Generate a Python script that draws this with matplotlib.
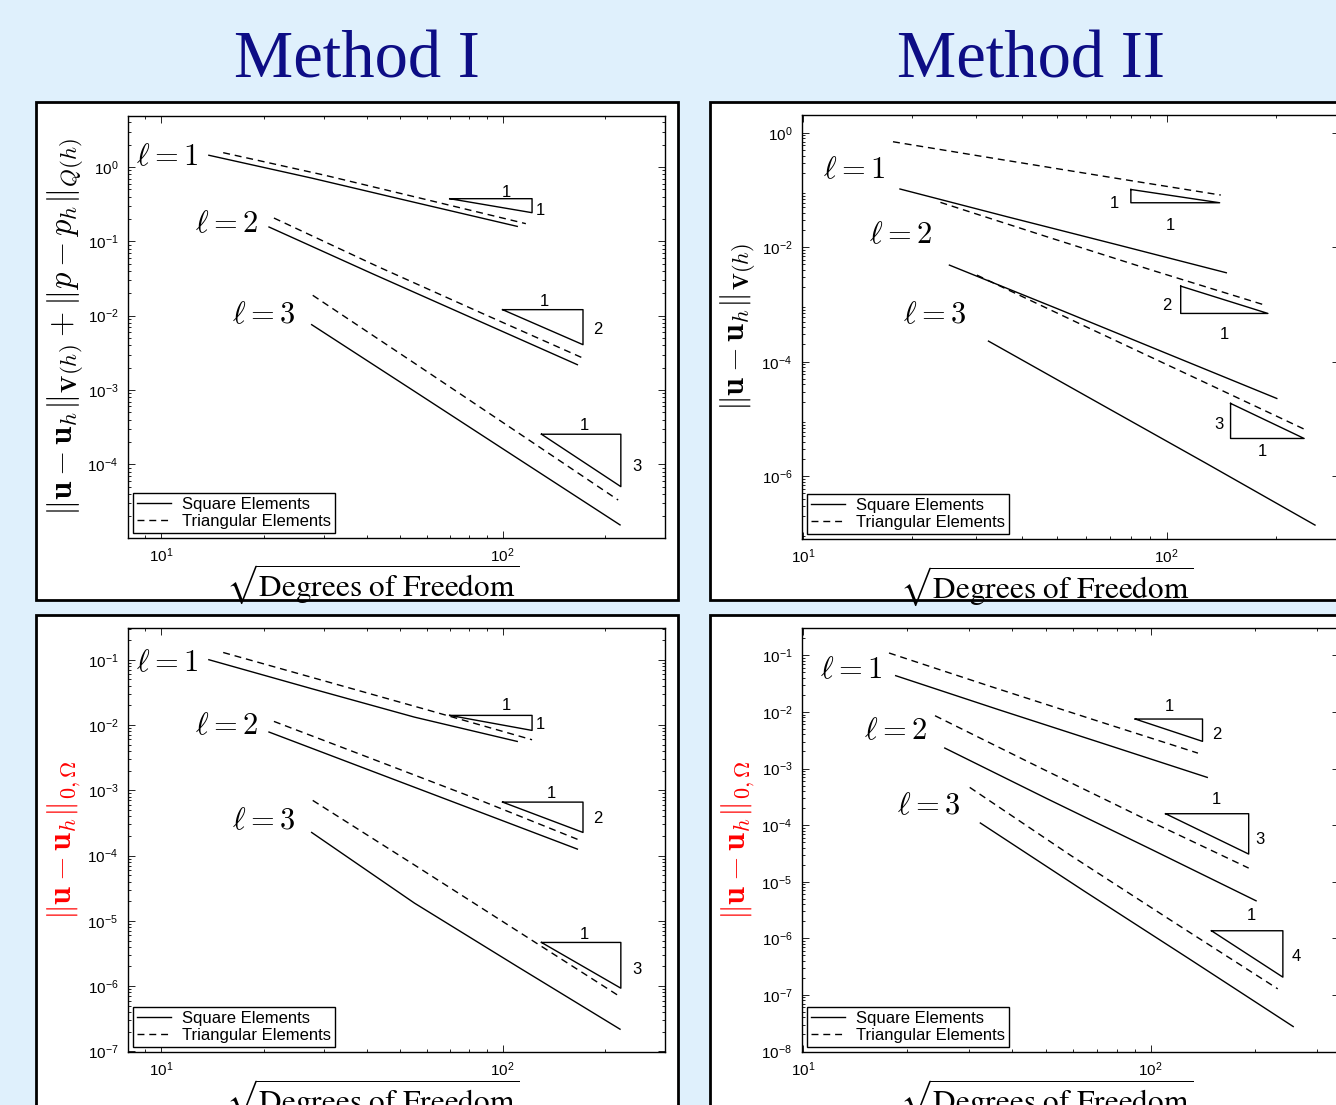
import matplotlib
matplotlib.use("Agg")
import matplotlib.pyplot as plt
from matplotlib.lines import Line2D
from matplotlib.patches import Rectangle

plt.rcParams["font.family"] = ["Liberation Sans", "DejaVu Sans"]
plt.rcParams["mathtext.fontset"] = "custom"
plt.rcParams["mathtext.rm"] = "Liberation Sans"
plt.rcParams["mathtext.it"] = "Liberation Sans:italic"
plt.rcParams["mathtext.bf"] = "Liberation Sans:bold"

BG = "#dff0fc"
TITLE_COLOR = "#0d0d85"
DASH = (0, (5, 3.5))

# ---- Method I, energy norm (top left) ----
m1e_sq_x = [[13.8, 27.6, 55.2, 110.4], [20.7, 41.4, 82.8, 165.6], [27.6, 55.2, 110.4, 220.8]]
m1e_sq_y = [[1.44, 0.71, 0.335, 0.159], [0.156, 0.037, 0.009, 2.19e-3], [7.57e-3, 9.6e-4, 1.21e-4, 1.53e-5]]
m1e_tri_x = [[15.2, 30.0, 59.0, 117.0], [21.4, 42.8, 85.8, 171.9], [27.8, 55.4, 110.0, 218.0]]
m1e_tri_y = [[1.56, 0.78, 0.37, 0.173], [0.206, 0.0465, 0.0111, 2.69e-3], [0.0188, 2.27e-3, 2.74e-4, 3.31e-5]]
m1e_slope_x = [[70, 122, 122, 70], [100, 172, 172, 100], [130, 222, 222, 130]]
m1e_slope_y = [[0.375, 0.375, 0.243, 0.375], [0.01205, 0.01205, 4.07e-3, 0.01205], [2.54e-4, 2.54e-4, 5.01e-5, 2.54e-4]]
m1e_rates = [("1", 102.8, 0.461), ("1", 129, 0.261), ("1", 133, 0.0153), ("2", 190, 6.49e-3),
             ("1", 174, 3.38e-4), ("3", 247, 9.3e-5)]
m1e_ell = [(10.4, 1.36), (15.5, 0.173), (20.0, 0.0103)]

# ---- Method I, L2 norm (bottom left) ----
m1l_sq_x = [[13.8, 27.6, 55.2, 110.4], [20.7, 41.4, 82.8, 165.6], [27.6, 55.2, 110.4, 220.8]]
m1l_sq_y = [[0.1, 0.036, 0.0132, 5.6e-3], [7.8e-3, 1.97e-3, 4.98e-4, 1.256e-4], [2.26e-4, 1.87e-5, 2.0e-6, 2.19e-7]]
m1l_tri_x = [[15.2, 30.4, 60.8, 122.0], [21.4, 42.8, 85.6, 167.0], [27.8, 55.6, 111.0, 222.0]]
m1l_tri_y = [[0.129, 0.0466, 0.0168, 5.94e-3], [0.01135, 2.85e-3, 7.1e-4, 1.745e-4], [7.0e-4, 7.0e-5, 6.9e-6, 6.78e-7]]
m1l_slope_x = [[70, 122, 122, 70], [100, 172, 172, 100], [130, 222, 222, 130]]
m1l_slope_y = [[0.01403, 0.01403, 8.26e-3, 0.01403], [6.59e-4, 6.59e-4, 2.26e-4, 6.59e-4], [4.67e-6, 4.67e-6, 9.3e-7, 4.67e-6]]
m1l_rates = [("1", 102.8, 0.0197), ("1", 129, 0.0101), ("1", 138.6, 9.06e-4), ("2", 190, 3.75e-4),
             ("1", 174, 6.12e-6), ("3", 247, 1.82e-6)]
m1l_ell = [(10.4, 0.089), (15.5, 9.75e-3), (20.0, 3.33e-4)]

# ---- Method II, energy norm (top right) ----
m2e_sq_x = [[18.5, 36.5, 73.0, 146.0], [25.3, 50.3, 100.5, 201.0], [32.4, 64.5, 128.5, 256.0]]
m2e_sq_y = [[0.104, 0.034, 0.0111, 3.58e-3], [4.87e-3, 8.35e-4, 1.38e-4, 2.28e-5], [2.29e-4, 1.96e-5, 1.68e-6, 1.40e-7]]
m2e_tri_x = [[17.7, 35.3, 70.6, 141.0], [23.9, 46.5, 92.0, 184.0], [30.1, 60.0, 120.0, 240.0]]
m2e_tri_y = [[0.696, 0.338, 0.165, 0.0815], [0.0607, 0.0155, 3.9e-3, 1.0e-3], [3.26e-3, 4.1e-4, 5.2e-5, 6.56e-6]]
m2e_slope_x = [[79.8, 79.8, 140, 79.8], [109.4, 109.4, 190, 109.4], [150, 150, 239, 150]]
m2e_slope_y = [[0.102, 0.0598, 0.0598, 0.102], [2.09e-3, 6.97e-4, 6.97e-4, 2.09e-3], [1.87e-5, 4.56e-6, 4.56e-6, 1.87e-5]]
m2e_rates = [("1", 72, 0.058), ("1", 102.5, 0.0237), ("2", 100.4, 9.5e-4), ("1", 144, 3.0e-4),
             ("3", 139.6, 8.0e-6), ("1", 184, 2.74e-6)]
m2e_ell = [(13.8, 0.223), (18.5, 0.0163), (23.0, 6.5e-4)]

# ---- Method II, L2 norm (bottom right) ----
m2l_sq_x = [[18.5, 36.5, 73.0, 145.5], [25.6, 50.5, 101.0, 201.0], [32.4, 64.5, 129.0, 257.0]]
m2l_sq_y = [[0.0437, 0.011, 2.77e-3, 6.97e-4], [2.30e-3, 2.91e-4, 3.67e-5, 4.6e-6], [1.09e-4, 6.8e-6, 4.35e-7, 2.76e-8]]
m2l_tri_x = [[17.7, 34.6, 68.5, 136.8], [24.0, 48.0, 96.0, 191.4], [30.2, 59.0, 117.0, 232.0]]
m2l_tri_y = [[0.110, 0.0283, 7.3e-3, 1.87e-3], [8.57e-3, 1.04e-3, 1.30e-4, 1.74e-5], [4.64e-4, 2.9e-5, 1.9e-6, 1.28e-7]]
m2l_slope_x = [[90.3, 141, 141, 90.3], [110.4, 191.4, 191.4, 110.4], [149.6, 240, 240, 149.6]]
m2l_slope_y = [[7.49e-3, 7.49e-3, 3.02e-3, 7.49e-3], [1.59e-4, 1.59e-4, 3.08e-5, 1.59e-4], [1.36e-6, 1.36e-6, 2.06e-7, 1.36e-6]]
m2l_rates = [("1", 113.6, 0.0125), ("2", 154.5, 3.96e-3), ("1", 154.5, 2.88e-4), ("3", 206.5, 5.66e-5),
             ("1", 195.4, 2.5e-6), ("4", 263, 4.78e-7)]
m2l_ell = [(13.8, 0.0558), (18.5, 4.53e-3), (23.0, 2.14e-4)]

titles = ["Method I", "Method II"]
legend_labels = ["Square Elements", "Triangular Elements"]
ylabel_energy1 = r"$\|\mathbf{u}-\mathbf{u}_h\|_{\mathbf{V}(h)}+\|p-p_h\|_{Q(h)}$"
ylabel_energy2 = r"$\|\mathbf{u}-\mathbf{u}_h\|_{\mathbf{V}(h)}$"
ylabel_l2 = r"$\|\mathbf{u}-\mathbf{u}_h\|_{0,\Omega}$"
xlabel = r"$\sqrt{\mathrm{Degrees\ of\ Freedom}}$"

W, H = 1336, 1105


def fig_rect(x0, y0, x1, y1):
    # pixel box (top-left origin) -> figure fraction rect
    return [x0 / W, 1 - y1 / H, (x1 - x0) / W, (y1 - y0) / H]


def draw_panel(ax, sq_x, sq_y, tri_x, tri_y, slope_x, slope_y, rates, ell_pos,
               xlim, ylim, ylabel, ylabel_color, ylabel_x, ylabel_size, yticks=None):
    for x, y in zip(sq_x, sq_y):
        ax.plot(x, y, color="black", lw=1.0)
    for x, y in zip(tri_x, tri_y):
        ax.plot(x, y, color="black", lw=1.0, ls=DASH)
    for x, y in zip(slope_x, slope_y):
        ax.plot(x, y, color="black", lw=1.0)
    for txt, x, y in rates:
        ax.text(x, y, txt, ha="center", va="center", fontsize=12)
    for k, (x, y) in enumerate(ell_pos, start=1):
        ax.text(x, y, rf"$\ell = {k}$", ha="center", va="center", fontsize=22,
                math_fontfamily="cm")
    ax.set_xscale("log")
    ax.set_yscale("log")
    ax.set_xlim(*xlim)
    ax.set_ylim(*ylim)
    if yticks is not None:
        ax.set_yticks(yticks)
    ax.tick_params(which="both", direction="in", top=True, right=True, width=0.6)
    ax.tick_params(which="major", length=5, labelsize=11)
    ax.tick_params(which="minor", length=2.5)
    ax.tick_params(axis="x", pad=6)
    ax.tick_params(axis="y", pad=7)
    for sp in ax.spines.values():
        sp.set_linewidth(1.0)
    ax.set_ylabel(ylabel, fontsize=ylabel_size, color=ylabel_color, math_fontfamily="cm")
    ax.yaxis.set_label_coords(ylabel_x, 0.5)
    ax.set_xlabel(xlabel, fontsize=22.5, math_fontfamily="stix")
    ax.xaxis.set_label_coords(0.456, -0.058)
    handles = [Line2D([], [], color="black", lw=1.0),
               Line2D([], [], color="black", lw=1.0, ls=DASH)]
    leg = ax.legend(handles, legend_labels, loc="lower left", fontsize=12, fancybox=False,
                    edgecolor="black", framealpha=1, borderaxespad=0.3, borderpad=0.25,
                    labelspacing=0.1, handlelength=2.0, handletextpad=0.7)
    leg.get_frame().set_linewidth(1.0)


fig = plt.figure(figsize=(W / 100, H / 100), dpi=100)
fig.patch.set_facecolor(BG)

for box in [(36, 102, 678, 600), (710, 102, 1352, 600), (36, 615, 678, 1125), (710, 615, 1352, 1125)]:
    fig.add_artist(Rectangle((box[0] / W, 1 - box[3] / H), (box[2] - box[0]) / W, (box[3] - box[1]) / H,
                             transform=fig.transFigure, facecolor="white", edgecolor="black",
                             lw=2, zorder=-1))

ax1 = fig.add_axes(fig_rect(128, 116, 665, 538))
ax2 = fig.add_axes(fig_rect(802, 115, 1339, 539))
ax3 = fig.add_axes(fig_rect(128, 628, 665, 1052))
ax4 = fig.add_axes(fig_rect(802, 628, 1339, 1052))

draw_panel(ax1, m1e_sq_x, m1e_sq_y, m1e_tri_x, m1e_tri_y, m1e_slope_x, m1e_slope_y, m1e_rates, m1e_ell,
           (8.0, 299), (1.02e-5, 4.86), ylabel_energy1, "black", -0.078, 23.5)
draw_panel(ax2, m2e_sq_x, m2e_sq_y, m2e_tri_x, m2e_tri_y, m2e_slope_x, m2e_slope_y, m2e_rates, m2e_ell,
           (9.95, 298), (8e-8, 2.04), ylabel_energy2, "black", -0.082, 23, yticks=[1e-6, 1e-4, 1e-2, 1])
draw_panel(ax3, m1l_sq_x, m1l_sq_y, m1l_tri_x, m1l_tri_y, m1l_slope_x, m1l_slope_y, m1l_rates, m1l_ell,
           (8.0, 299), (0.98e-7, 0.306), ylabel_l2, "red", -0.084, 23)
draw_panel(ax4, m2l_sq_x, m2l_sq_y, m2l_tri_x, m2l_tri_y, m2l_slope_x, m2l_slope_y, m2l_rates, m2l_ell,
           (9.95, 348), (0.98e-8, 0.304), ylabel_l2, "red", -0.084, 23)

for title, xc in zip(titles, [357, 1031]):
    fig.text(xc / W, 1 - 78 / H, title, ha="center", va="baseline", fontsize=48,
             family="Liberation Serif", color=TITLE_COLOR)

fig.savefig("out.png", dpi=100, facecolor=BG)
